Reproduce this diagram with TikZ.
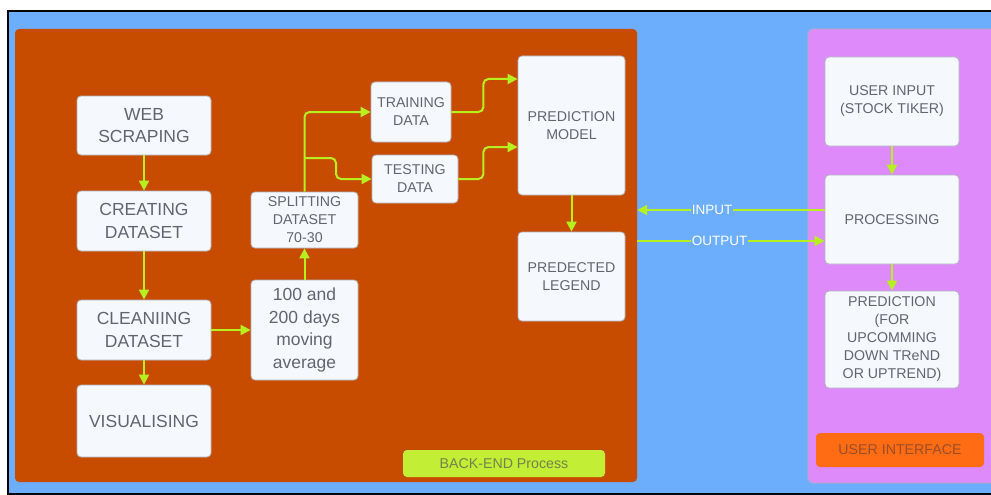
\documentclass[tikz,border=0pt]{standalone}
\usepackage{fontspec}
\setmainfont{Liberation Sans}
\usetikzlibrary{arrows.meta,calc}
\definecolor{bluebg}{RGB}{108,174,252}
\definecolor{backend}{RGB}{200,76,0}
\definecolor{pinkbg}{RGB}{222,138,250}
\definecolor{boxfill}{RGB}{245,249,253}
\definecolor{boxline}{RGB}{176,180,188}
\definecolor{txt}{RGB}{98,101,110}
\definecolor{lime}{RGB}{182,240,30}
\definecolor{limelab}{RGB}{194,238,53}
\definecolor{limetxt}{RGB}{115,130,75}
\definecolor{uiorange}{RGB}{255,108,20}
\definecolor{uitxt}{RGB}{155,78,40}
\tikzset{
  box/.style={draw=boxline, fill=boxfill, rounded corners=4pt, line width=0.8pt, align=center, text=txt, inner sep=0pt},
  bigtxt/.style={font=\fontsize{17.5}{22.5}\selectfont},
  smalltxt/.style={font=\fontsize{14.2}{18}\selectfont},
  arr/.style={draw=lime, line width=2pt, -{Triangle[length=10pt,width=10pt]}},
  lab/.style={fill=bluebg, text=white, inner sep=1pt, font=\fontsize{13.5}{16}\selectfont},
}
\begin{document}
\begin{tikzpicture}[x=1pt,y=-1pt]
\useasboundingbox (0,0) rectangle (991,495);
\clip (0,0) rectangle (991,495);
\fill[white] (0,0) rectangle (991,495);
\draw[fill=bluebg, draw=black, line width=2pt] (8,11) rectangle (1000,494);
% containers
\node[fill=backend, rounded corners=4pt, minimum width=622pt, minimum height=453pt, inner sep=0pt] (backend) at (326,255.5) {};
\node[fill=pinkbg, draw=boxline, line width=0.6pt, rounded corners=5pt, minimum width=200pt, minimum height=454pt, inner sep=0pt] (ui) at (908,256) {};
% back-end boxes
\node[box, bigtxt, minimum width=134pt, minimum height=59pt] (web) at (144,125.5) {WEB\\SCRAPING};
\node[box, bigtxt, minimum width=134pt, minimum height=60pt] (create) at (144,221) {CREATING\\DATASET};
\node[box, bigtxt, minimum width=134pt, minimum height=60pt] (clean) at (144,330) {CLEANIING\\DATASET};
\node[box, bigtxt, minimum width=134pt, minimum height=72pt] (vis) at (144,421) {VISUALISING};
\node[box, bigtxt, minimum width=107pt, minimum height=100pt] (mavg) at (304.5,330) {100 and\\200 days\\moving\\average};
\node[box, smalltxt, minimum width=107pt, minimum height=56pt] (split) at (304.5,220) {SPLITTING\\DATASET\\70-30};
\node[box, smalltxt, minimum width=80pt, minimum height=60pt] (train) at (411,112) {TRAINING\\DATA};
\node[box, smalltxt, minimum width=86pt, minimum height=48pt] (test) at (415,179) {TESTING\\DATA};
\node[box, smalltxt, minimum width=107pt, minimum height=139pt] (pred) at (571.5,125.5) {PREDICTION\\MODEL};
\node[box, smalltxt, minimum width=107pt, minimum height=89pt] (legend) at (571.5,276.5) {PREDECTED\\LEGEND};
\node[fill=limelab, rounded corners=4pt, minimum width=202pt, minimum height=27pt, inner sep=0pt, text=limetxt, font=\fontsize{14.2}{16}\selectfont] (belab) at (504,463.5) {BACK-END Process};
% UI boxes
\node[box, smalltxt, minimum width=134pt, minimum height=89pt] (uin) at (892,101.5) {USER INPUT\\(STOCK TIKER)};
\node[box, smalltxt, minimum width=134pt, minimum height=89pt] (proc) at (892,219.5) {PROCESSING};
\node[box, smalltxt, minimum width=134pt, minimum height=97pt] (uout) at (892,339.5) {PREDICTION\\(FOR\\UPCOMMING\\DOWN TReND\\OR UPTREND)};
\node[fill=uiorange, rounded corners=4pt, minimum width=168pt, minimum height=34pt, inner sep=0pt, text=uitxt, font=\fontsize{14.2}{16}\selectfont] (uilab) at (900,450) {USER INTERFACE};
% arrows back-end
\draw[arr] (web) -- (create);
\draw[arr] (create) -- (clean);
\draw[arr] (clean) -- (vis);
\draw[arr] (clean) -- (mavg);
\draw[arr] (mavg) -- (split);
\draw[arr, rounded corners=5pt] (split.north) |- (train.west);
\coordinate (br) at (304.5,158);
\draw[arr, rounded corners=5pt] (br) -- ++(31.5,0) |- (test.west);
\draw[arr, rounded corners=5pt] (train.east) -- ++(32,0) |- ([yshift=46.5pt]pred.west);
\draw[arr, rounded corners=5pt] (test.east) -- ++(25,0) |- ([yshift=-21.5pt]pred.west);
\draw[arr] (pred) -- (legend);
% UI arrows
\draw[arr] (uin) -- (proc);
\draw[arr] (proc) -- (uout);
\draw[arr] ([yshift=9.5pt]proc.west) -- ([yshift=9.5pt]proc.west -| backend.east) node[pos=0.6, lab] {INPUT};
\draw[arr] ([yshift=-21.5pt]proc.west -| backend.east) -- ([yshift=-21.5pt]proc.west) node[pos=0.44, lab] {OUTPUT};
\end{tikzpicture}
\end{document}
